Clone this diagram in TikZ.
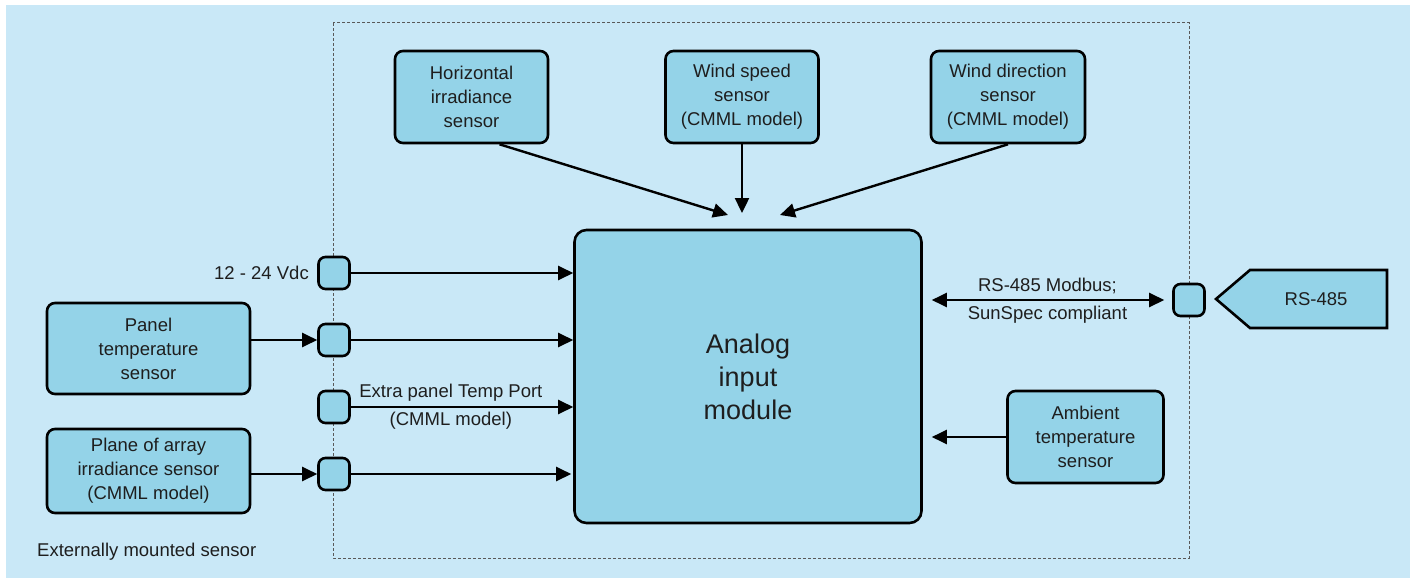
\documentclass[tikz,border=0pt]{standalone}
\usepackage{fontspec}
\setmainfont{Liberation Sans}
\usetikzlibrary{arrows.meta,calc}
\definecolor{bgblue}{RGB}{201,232,247}
\definecolor{boxblue}{RGB}{148,211,232}
\definecolor{txt}{RGB}{30,30,30}
\begin{document}
\begin{tikzpicture}[x=1pt,y=-1pt,
  box/.style={draw=black,line width=2.6pt,fill=boxblue,rounded corners=8pt,align=center,
    font=\fontsize{18.5}{24}\selectfont,text=txt,inner sep=0pt},
  port/.style={draw=black,line width=2.6pt,fill=boxblue,rounded corners=7pt,
    minimum width=31pt,minimum height=32pt,inner sep=0pt},
  arr/.style={line width=2.4pt,-{Triangle[length=15pt,width=14pt]}},
  darr/.style={line width=2.4pt,{Triangle[length=15pt,width=14pt]}-{Triangle[length=15pt,width=14pt]}},
  lbl/.style={font=\fontsize{18.5}{22}\selectfont,text=txt,align=center,inner sep=0pt},
  frame/.style={draw=black!65,line width=1pt,dash pattern=on 3pt off 2pt}]
\useasboundingbox (0,0) rectangle (1416,578);
\fill[bgblue] (6,5) rectangle (1410,578);
\draw[frame] (333,23) rectangle (1189,558);

% top sensors
\node[box,minimum width=153pt,minimum height=92pt] (hi) at (471.5,97) {Horizontal\\irradiance\\sensor};
\node[box,minimum width=153pt,minimum height=92pt] (ws) at (742,97) {Wind speed\\sensor\\(CMML model)};
\node[box,minimum width=154pt,minimum height=92pt] (wd) at (1008,97) {Wind direction\\sensor\\(CMML model)};

% analog module
\node[box,minimum width=347pt,minimum height=293pt,rounded corners=12pt,
  font=\fontsize{27}{33}\selectfont] (an) at (748,376.5) {Analog\\input\\module};

\coordinate (t1) at (728,215);
\coordinate (t2) at (ws.south |- 0,213);
\coordinate (t3) at (780,215);
\draw[arr] ([xshift=28pt]hi.south) -- (t1);
\draw[arr] (ws.south) -- (t2);
\draw[arr] (wd.south) -- (t3);

% left ports
\node[port] (p1) at (334,273) {};
\node[port] (p2) at (334,340) {};
\node[port] (p3) at (334,407) {};
\node[port] (p4) at (334,474) {};
\node[lbl,anchor=east] (vdc) at (309,273) {12 - 24 Vdc};

\node[box,minimum width=203pt,minimum height=91pt] (pt) at (148.5,348.5) {Panel\\temperature\\sensor};
\node[box,minimum width=203pt,minimum height=84pt] (pa) at (148.5,471) {Plane of array\\irradiance sensor\\(CMML model)};

\draw[arr] (pt.east |- p2) -- (p2.west);
\draw[arr] (pa.east |- p4) -- (p4.west);
\draw[arr] (p1.east) -- (p1 -| an.west);
\draw[arr] (p2.east) -- (p2 -| an.west);
\draw[arr] (p3.east) -- (p3 -| an.west)
  node[lbl,pos=0.45,above=4pt] {Extra panel Temp Port}
  node[lbl,pos=0.45,below=4pt] {(CMML model)};
\draw[arr,shorten >=2pt] (p4.east) -- (p4 -| an.west);

% right side
\node[port] (rp) at (1189,300) {};
\draw[line width=2.6pt,fill=boxblue,line join=miter] (1216,299) -- (1250,270) -- (1387,270) -- (1387,328) -- (1250,328) -- cycle;
\node[lbl] (rs) at (1316,299) {RS-485};
\draw[darr,shorten <=9pt,shorten >=8pt] (an.east |- rp) -- (rp.west)
  node[lbl,midway,above=5pt] {RS-485 Modbus;}
  node[lbl,midway,below=5pt] {SunSpec compliant};

\node[box,minimum width=156pt,minimum height=92pt] (am) at (1085.5,437) {Ambient\\temperature\\sensor};
\draw[arr,shorten >=9pt] (am.west) -- (am -| an.east);

\node[lbl,anchor=west] (ext) at (37,552) {Externally mounted sensor};
\end{tikzpicture}
\end{document}
